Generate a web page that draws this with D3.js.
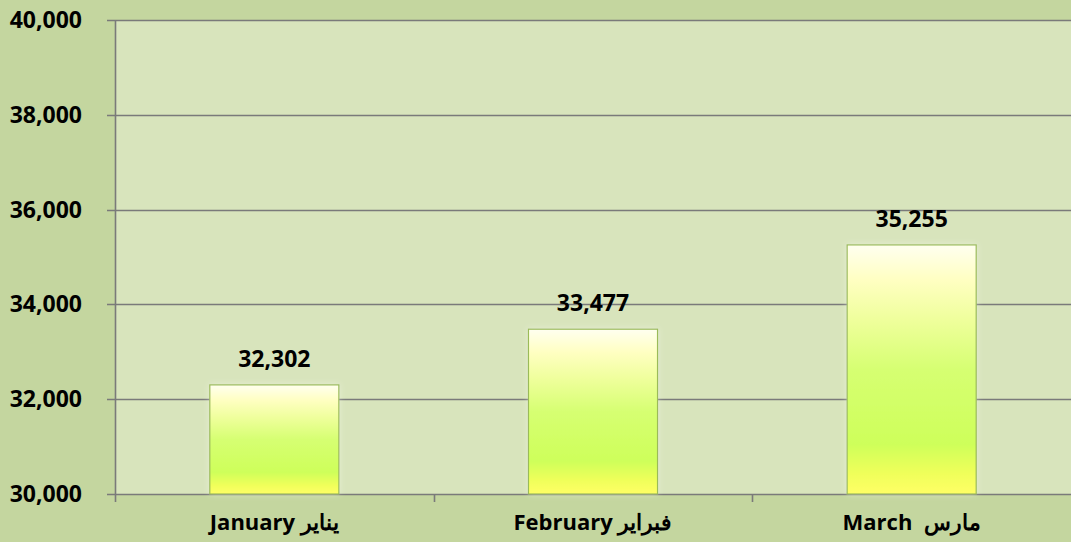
<!DOCTYPE html>
<html>
<head>
<meta charset="utf-8">
<script src="https://cdn.jsdelivr.net/npm/d3@7"></script>
<style>
  body { margin: 0; background: #c4d69f; }
  svg { display: block; }
</style>
</head>
<body>
<div id="chart"></div>
<script>
// data
const months = ["January يناير", "February فبراير", "March  مارس"];
const values = [32302, 33477, 35255];
const yTicks = [30000, 32000, 34000, 36000, 38000, 40000];

const width = 1071, height = 542;
const margin = {top: 20, right: 0, bottom: 48, left: 115};

const svg = d3.select('#chart').append('svg')
    .attr('width', width)
    .attr('height', height);

svg.append('rect')
    .attr('width', width).attr('height', height)
    .attr('fill', '#c4d69f');

const x = d3.scaleBand()
    .domain(months)
    .range([margin.left, width - margin.right]);

const y = d3.scaleLinear()
    .domain([30000, 40000])
    .range([height - margin.bottom, margin.top]);

// bar gradient
const defs = svg.append('defs');
const grad = defs.append('linearGradient')
    .attr('id', 'barGrad')
    .attr('x1', 0).attr('y1', 0).attr('x2', 0).attr('y2', 1);
grad.selectAll('stop')
    .data([
        [0, '#fffff0'], [0.14, '#ffffc2'], [0.3, '#efff9c'],
        [0.5, '#d6ff72'], [0.8, '#ceff5a'], [0.92, '#f0ff5a'], [1, '#ffff66']
    ])
    .join('stop')
    .attr('offset', d => d[0])
    .attr('stop-color', d => d[1]);

defs.append('filter').attr('id', 'glow')
    .attr('x', -0.2).attr('y', -0.2).attr('width', 1.4).attr('height', 1.4)
    .append('feDropShadow')
    .attr('dx', 0).attr('dy', 0).attr('stdDeviation', 3)
    .attr('flood-color', '#ffffff').attr('flood-opacity', 0.35);

// plot area
svg.append('rect')
    .attr('x', margin.left).attr('y', margin.top)
    .attr('width', width - margin.left - margin.right)
    .attr('height', y(30000) - margin.top)
    .attr('fill', '#d8e4bc');

// gridlines
svg.append('g')
    .selectAll('line')
    .data(yTicks)
    .join('line')
    .attr('x1', margin.left - 8)
    .attr('x2', width)
    .attr('y1', d => Math.round(y(d)) + 0.5)
    .attr('y2', d => Math.round(y(d)) + 0.5)
    .attr('stroke', '#7a7a7a')
    .attr('stroke-width', 1.6);

// y axis line
svg.append('line')
    .attr('x1', margin.left + 0.5).attr('x2', margin.left + 0.5)
    .attr('y1', margin.top).attr('y2', y(30000) + 8)
    .attr('stroke', '#7a7a7a').attr('stroke-width', 1.6);

// x ticks at band edges
svg.append('g')
    .selectAll('line')
    .data(months.slice(1))
    .join('line')
    .attr('x1', d => Math.round(x(d)) + 0.5)
    .attr('x2', d => Math.round(x(d)) + 0.5)
    .attr('y1', y(30000))
    .attr('y2', y(30000) + 8)
    .attr('stroke', '#7a7a7a').attr('stroke-width', 1.6);

// bars
const barW = x.bandwidth() * 0.405;
svg.append('g')
    .selectAll('rect')
    .data(values)
    .join('rect')
    .attr('x', (d, i) => x(months[i]) + x.bandwidth() / 2 - barW / 2)
    .attr('y', d => y(d))
    .attr('width', barW)
    .attr('height', d => y(30000) - y(d))
    .attr('fill', 'url(#barGrad)')
    .attr('stroke', '#9bbb59')
    .attr('stroke-width', 1.2)
    .attr('filter', 'url(#glow)');

const font = "'Open Sans', sans-serif";

// value labels
svg.append('g')
    .selectAll('text')
    .data(values)
    .join('text')
    .attr('x', (d, i) => x(months[i]) + x.bandwidth() / 2)
    .attr('y', d => y(d) - 18)
    .attr('text-anchor', 'middle')
    .attr('font-family', font)
    .attr('font-weight', 'bold')
    .attr('font-size', 23)
    .text(d => d3.format(',')(d));

// y labels
svg.append('g')
    .selectAll('text')
    .data(yTicks)
    .join('text')
    .attr('x', 82)
    .attr('y', d => y(d) + 8)
    .attr('text-anchor', 'end')
    .attr('font-family', font)
    .attr('font-weight', 'bold')
    .attr('font-size', 23)
    .text(d => d3.format(',')(d));

// category labels
svg.append('g')
    .selectAll('text')
    .data(months)
    .join('text')
    .attr('x', d => x(d) + x.bandwidth() / 2)
    .attr('y', 530)
    .attr('text-anchor', 'middle')
    .attr('font-family', font)
    .attr('font-weight', 'bold')
    .attr('font-size', 22)
    .style('white-space', 'pre')
    .text(d => d);
</script>
</body>
</html>
